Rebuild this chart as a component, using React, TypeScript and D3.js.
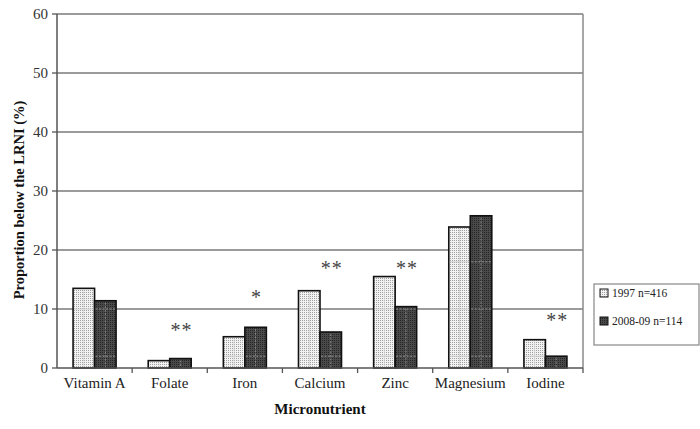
import React from "react";
import * as d3 from "d3";

const categories = ["Vitamin A", "Folate", "Iron", "Calcium", "Zinc", "Magnesium", "Iodine"];
const series1997 = [13.5, 1.25, 5.3, 13.1, 15.5, 23.9, 4.8];
const series2008 = [11.4, 1.6, 6.9, 6.1, 10.4, 25.8, 2.0];
const seriesNames = ["1997 n=416", "2008-09 n=114"];
const significance = ["", "**", "*", "**", "**", "", "**"];
const sigLevel = [0, 5.2, 10.9, 15.7, 15.7, 0, 6.9];
const yTicks = [0, 10, 20, 30, 40, 50, 60];

const W = 700, H = 429;
const left = 57, right = 583, top = 14, bottom = 368;
const font = "'Liberation Serif', 'Times New Roman', serif";

export default function App() {
  const x = d3.scaleBand<string>().domain(categories).range([left, right]).paddingInner(0).paddingOuter(0);
  const y = d3.scaleLinear().domain([0, 60]).range([bottom, top]);
  const bw = 21.5;
  const bars: { key: string; x: number; y: number; h: number; fill: string }[] = [];
  categories.forEach((c, i) => {
    const cx = (x(c) as number) + x.bandwidth() / 2;
    bars.push({ key: c + "a", x: cx - bw, y: y(series1997[i]), h: bottom - y(series1997[i]), fill: "url(#pLight)" });
    bars.push({ key: c + "b", x: cx, y: y(series2008[i]), h: bottom - y(series2008[i]), fill: "url(#pDark)" });
  });
  return (
    <svg width={W} height={H} style={{ position: "absolute", left: 0, top: 0, background: "#fff" }} fontFamily={font}>
      <defs>
        <pattern id="pLight" width="2" height="2" patternUnits="userSpaceOnUse">
          <rect width="2" height="2" fill="#f2f2f2" />
          <rect width="1" height="1" fill="#a0a0a0" />
        </pattern>
        <pattern id="pDark" width="2" height="2" patternUnits="userSpaceOnUse">
          <rect width="2" height="2" fill="#4a4a4a" />
          <rect width="1" height="1" fill="#262626" />
        </pattern>
      </defs>
      {yTicks.filter(t => t > 0).map(t => (
        <line key={t} x1={left} x2={right} y1={y(t)} y2={y(t)} stroke="#7a7a7a" strokeWidth={1.3} />
      ))}
      <line x1={right} x2={right} y1={top} y2={bottom} stroke="#8a8a8a" strokeWidth={1.5} />
      {bars.map(b => (
        <rect key={b.key} x={b.x} y={b.y} width={bw} height={b.h} fill={b.fill} stroke="#111" strokeWidth={1.6} />
      ))}
      {bars.map(b => {
        const isDark = b.key.endsWith("b");
        const lines = [] as React.ReactNode[];
        for (let v = 2; y(v) > b.y + 2; v += 8) {
          lines.push(<line key={"h" + v} x1={b.x + 1} x2={b.x + bw - 1} y1={y(v)} y2={y(v)} stroke={isDark ? "#aaa" : "#c8c8c8"} strokeWidth={0.8} strokeDasharray={isDark ? "2,1.5" : ""} />);
        }
        lines.push(<line key="v" x1={b.x + bw / 2} x2={b.x + bw / 2} y1={b.y + 2} y2={bottom - 1} stroke={isDark ? "#999" : "#d0d0d0"} strokeWidth={0.8} strokeDasharray={isDark ? "2,1.5" : ""} />);
        return <g key={b.key + "g"}>{lines}</g>;
      })}
      <line x1={left} x2={left} y1={top} y2={bottom} stroke="#555" strokeWidth={1.5} />
      <line x1={left} x2={right} y1={bottom} y2={bottom} stroke="#555" strokeWidth={1.5} />
      {yTicks.map(t => (
        <g key={"yt" + t}>
          <line x1={left - 5} x2={left} y1={y(t)} y2={y(t)} stroke="#555" strokeWidth={1.3} />
          <text x={left - 9} y={y(t)} dy="0.35em" textAnchor="end" fontSize={15} fill="#333">{t}</text>
        </g>
      ))}
      {categories.map((c, i) => (
        <g key={"xt" + c}>
          {i > 0 && <line x1={x(c)} x2={x(c)} y1={bottom} y2={bottom + 5} stroke="#555" strokeWidth={1.3} />}
          <text x={(x(c) as number) + x.bandwidth() / 2} y={bottom + 20} textAnchor="middle" fontSize={15} fill="#222">{c}</text>
        </g>
      ))}
      <line x1={right} x2={right} y1={bottom} y2={bottom + 5} stroke="#555" strokeWidth={1.3} />
      {categories.map((c, i) => significance[i] ? (
        <text key={"s" + c} x={(x(c) as number) + x.bandwidth() / 2 + bw / 2 + 1} y={y(sigLevel[i])} textAnchor="middle" fontSize={20} fill="#444" letterSpacing={1}>{significance[i]}</text>
      ) : null)}
      <text x={320} y={414} textAnchor="middle" fontSize={15} fontWeight="bold" fill="#111">Micronutrient</text>
      <text transform={`translate(24,200) rotate(-90)`} textAnchor="middle" fontSize={14.5} fontWeight="bold" fill="#111">Proportion below the LRNI (%)</text>
      <rect x={594} y={284} width={105} height={61} fill="#fff" stroke="#888" strokeWidth={1.2} />
      {seriesNames.map((s, i) => (
        <g key={s}>
          <rect x={600} y={289 + i * 28} width={8} height={8} fill={i === 0 ? "url(#pLight)" : "url(#pDark)"} stroke="#111" strokeWidth={1} />
          <text x={612} y={297 + i * 28} fontSize={11.5} fill="#222">{s}</text>
        </g>
      ))}
    </svg>
  );
}
